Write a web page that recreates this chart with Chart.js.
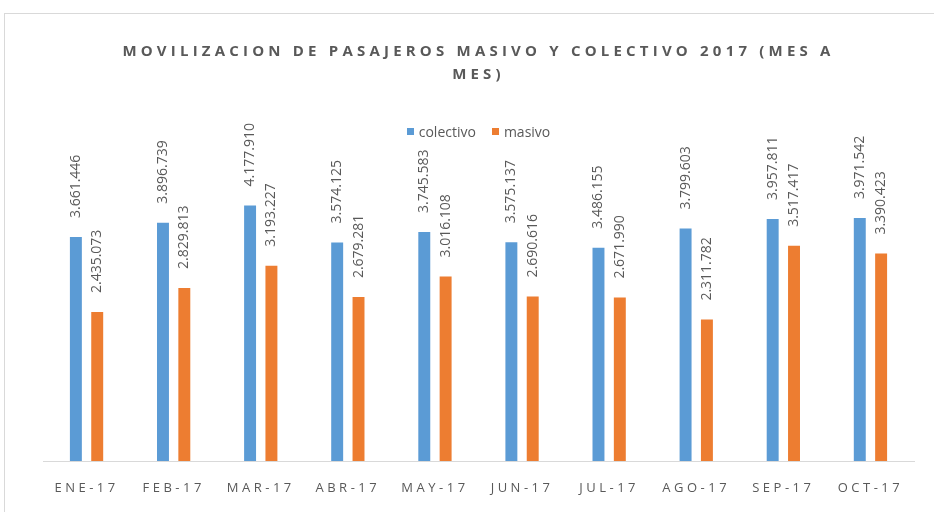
<!DOCTYPE html>
<html>
<head>
<meta charset="utf-8">
<script src="https://cdn.jsdelivr.net/npm/chart.js@4"></script>
<style>
  html, body { margin: 0; padding: 0; background: #fff; overflow: hidden; }
  #frame { position: absolute; left: 4px; top: 13px; width: 960px; height: 520px; border: 1px solid #d9d9d9; }
  #wrap { position: absolute; left: 0; top: 0; width: 934px; height: 512px; }
  #legend { position: absolute; left: 43px; width: 871px; top: 122px; display: flex; justify-content: center;
            font: 14px 'Open Sans', sans-serif; color: #595959; }
  #legend .item { display: flex; align-items: center; margin: 0 8px; }
  #legend .box { width: 7px; height: 7px; margin-right: 5px; }
</style>
</head>
<body>
<div id="frame"></div>
<div id="wrap">
  <canvas id="movChart" width="934" height="512"></canvas>
  <div id="legend"></div>
</div>
<script>
// Data
const months = ['ENE-17', 'FEB-17', 'MAR-17', 'ABR-17', 'MAY-17', 'JUN-17', 'JUL-17', 'AGO-17', 'SEP-17', 'OCT-17'];
const colectivo = [3661446, 3896739, 4177910, 3574125, 3745583, 3575137, 3486155, 3799603, 3957811, 3971542];
const masivo = [2435073, 2829813, 3193227, 2679281, 3016108, 2690616, 2671990, 2311782, 3517417, 3390423];
const titleLines = ['MOVILIZACION DE PASAJEROS MASIVO Y COLECTIVO 2017 (MES A', 'MES)'];

const gray = '#595959';

// number with dots as thousands separator
function fmt(n) {
    return String(n).replace(/\B(?=(\d{3})+(?!\d))/g, '.');
}

// letter spacing for title and axis labels, none for the bar labels
const spacingPlugin = {
    id: 'spacing',
    beforeDraw(chart) { chart.ctx.letterSpacing = '4.2px'; },
    beforeDatasetsDraw(chart) { chart.ctx.letterSpacing = '3.5px'; },
    afterDraw(chart) { chart.ctx.letterSpacing = '0px'; }
};

// rotated value labels above each bar
const barLabels = {
    id: 'barLabels',
    afterDatasetsDraw(chart) {
        const ctx = chart.ctx;
        chart.data.datasets.forEach((ds, i) => {
            chart.getDatasetMeta(i).data.forEach((bar, j) => {
                ctx.save();
                ctx.letterSpacing = '0px';
                ctx.font = "14px 'Open Sans', sans-serif";
                ctx.fillStyle = gray;
                ctx.textAlign = 'left';
                ctx.textBaseline = 'middle';
                ctx.translate(bar.x, bar.y - 19);
                ctx.rotate(-Math.PI / 2);
                ctx.fillText(fmt(ds.data[j]), 0, 0);
                ctx.restore();
            });
        });
    }
};

const config = {
    type: 'bar',
    data: {
        labels: months,
        datasets: [
            { label: 'colectivo', data: colectivo, backgroundColor: '#5B9BD5' },
            { label: 'masivo', data: masivo, backgroundColor: '#ED7D31' }
        ]
    },
    options: {
        responsive: false,
        animation: false,
        categoryPercentage: 0.49,
        barPercentage: 0.56,
        layout: { padding: { top: 28, left: 43, right: 20, bottom: 0 } },
        plugins: {
            legend: { display: false },
            tooltip: { enabled: false },
            title: {
                display: true,
                text: titleLines,
                color: gray,
                font: { family: "'Open Sans', sans-serif", size: 15, weight: 'bold', lineHeight: '23px' },
                padding: { top: 12, bottom: 8 }
            }
        },
        scales: {
            x: {
                grid: { display: false, drawTicks: false },
                border: { display: true, color: '#d9d9d9', width: 1 },
                ticks: {
                    color: gray,
                    font: { family: "'Open Sans', sans-serif", size: 13 },
                    padding: 19,
                    maxRotation: 0,
                    z: 1
                },
                afterFit(scale) { scale.height = 51; }
            },
            y: {
                display: false,
                min: 0,
                max: 6000000
            }
        }
    },
    plugins: [spacingPlugin, barLabels]
};

const movChart = new Chart(document.getElementById('movChart'), config);

// html legend built from the datasets
const legendEl = document.getElementById('legend');
movChart.data.datasets.forEach(ds => {
    const item = document.createElement('div');
    item.className = 'item';
    const box = document.createElement('span');
    box.className = 'box';
    box.style.background = ds.backgroundColor;
    const txt = document.createElement('span');
    txt.textContent = ds.label;
    item.appendChild(box);
    item.appendChild(txt);
    legendEl.appendChild(item);
});
</script>
</body>
</html>
